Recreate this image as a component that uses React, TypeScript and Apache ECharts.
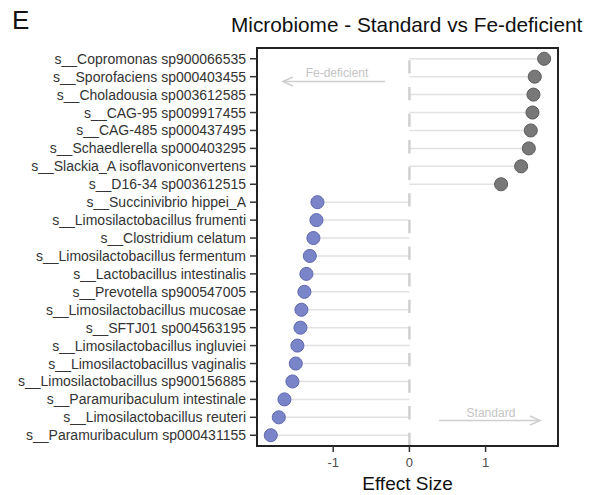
import React, { useEffect, useRef } from "react";
import * as echarts from "echarts";

const species: string[] = [
  "s__Copromonas sp900066535",
  "s__Sporofaciens sp000403455",
  "s__Choladousia sp003612585",
  "s__CAG-95 sp009917455",
  "s__CAG-485 sp000437495",
  "s__Schaedlerella sp000403295",
  "s__Slackia_A isoflavoniconvertens",
  "s__D16-34 sp003612515",
  "s__Succinivibrio hippei_A",
  "s__Limosilactobacillus frumenti",
  "s__Clostridium celatum",
  "s__Limosilactobacillus fermentum",
  "s__Lactobacillus intestinalis",
  "s__Prevotella sp900547005",
  "s__Limosilactobacillus mucosae",
  "s__SFTJ01 sp004563195",
  "s__Limosilactobacillus ingluviei",
  "s__Limosilactobacillus vaginalis",
  "s__Limosilactobacillus sp900156885",
  "s__Paramuribaculum intestinale",
  "s__Limosilactobacillus reuteri",
  "s__Paramuribaculum sp000431155",
];

const effectSize: number[] = [
  1.768, 1.645, 1.628, 1.615, 1.593, 1.567, 1.466, 1.203,
  -1.207, -1.22, -1.26, -1.307, -1.352, -1.378, -1.417, -1.43,
  -1.47, -1.491, -1.535, -1.64, -1.714, -1.819,
];

const xTicks: number[] = [-1, 0, 1];

const FONT = "'Liberation Sans', Arial, Helvetica, sans-serif";

const X_MIN = -2.0;
const X_MAX = 1.95;
const Y_MIN = -0.6;
const Y_MAX = 21.6;

export default function App() {
  const ref = useRef<HTMLDivElement>(null);

  useEffect(() => {
    if (!ref.current) return;
    const chart = echarts.init(ref.current, undefined, { renderer: "svg" });
    const rowIdx = species.map((_, i) => i);
    const pts = effectSize.map((v, i) => [v, i]);
    const posPts = pts.filter((p) => p[0] > 0);
    const negPts = pts.filter((p) => p[0] <= 0);

    const arrowHead = (x: number, y: number, dir: number) => ({
      type: "polyline",
      shape: {
        points: [
          [x - dir * 10, y - 4.5],
          [x, y],
          [x - dir * 10, y + 4.5],
        ],
      },
      style: { stroke: "#cfcfcf", lineWidth: 1.5, fill: "none" },
    });

    const option: any = {
      animation: false,
      textStyle: { fontFamily: FONT },
      title: [
        {
          text: "E",
          left: 12,
          top: 7,
          padding: 0,
          textStyle: { fontFamily: FONT, fontSize: 26, fontWeight: "normal", color: "#111" },
        },
        {
          text: "Microbiome - Standard vs Fe-deficient",
          left: 231,
          top: 14,
          padding: 0,
          textStyle: { fontFamily: FONT, fontSize: 20.8, fontWeight: "normal", color: "#111" },
        },
      ],
      grid: {
        left: 257,
        right: 32,
        top: 48,
        bottom: 49,
        containLabel: false,
        outerBoundsMode: "none",
      },
      xAxis: {
        type: "value",
        position: "bottom",
        min: X_MIN,
        max: X_MAX,
        name: "Effect Size",
        nameLocation: "middle",
        nameGap: 27,
        nameTextStyle: { fontFamily: FONT, fontSize: 19, color: "#111" },
        axisLine: { show: false, onZero: false },
        splitLine: { show: false },
        axisTick: { show: false },
        axisLabel: {
          customValues: xTicks,
          fontFamily: FONT,
          fontSize: 13,
          color: "#4d4d4d",
          margin: 10,
          formatter: (v: number) => String(v),
        },
      },
      yAxis: {
        type: "value",
        position: "left",
        min: Y_MIN,
        max: Y_MAX,
        inverse: true,
        axisLine: { show: false, onZero: false },
        splitLine: { show: false },
        axisTick: { show: false },
        axisLabel: {
          customValues: rowIdx,
          fontFamily: FONT,
          fontSize: 14,
          color: "#333",
          margin: 11,
          formatter: (v: number) => species[Math.round(v)] ?? "",
        },
      },
      series: [
        {
          type: "custom",
          name: "segments",
          z: 1,
          data: pts,
          renderItem: (_p: any, api: any) => {
            const v = api.value(0);
            const i = api.value(1);
            const a = api.coord([0, i]);
            const b = api.coord([v, i]);
            return {
              type: "line",
              shape: { x1: a[0], y1: a[1], x2: b[0], y2: b[1] },
              style: { stroke: "#e2e2e2", lineWidth: 1.5 },
            };
          },
        },
        {
          type: "custom",
          name: "zero",
          z: 2,
          data: [[0]],
          renderItem: (_p: any, api: any) => {
            const a = api.coord([0, Y_MAX]);
            const b = api.coord([0, Y_MIN]);
            return {
              type: "line",
              shape: { x1: a[0], y1: a[1], x2: b[0], y2: b[1] },
              style: { stroke: "#d0d0d0", lineWidth: 2.5, lineDash: [13.3, 13.3] },
            };
          },
        },
        {
          type: "custom",
          name: "annotations",
          z: 2,
          data: [
            [-0.95, 0.78, -0.32, -1.66, 1.27],
            [1.07, 19.74, 0.39, 1.715, 20.18],
          ],
          renderItem: (p: any, api: any) => {
            const labels = ["Fe-deficient", "Standard"];
            const t = api.coord([api.value(0), api.value(1)]);
            const s = api.coord([api.value(2), api.value(4)]);
            const e = api.coord([api.value(3), api.value(4)]);
            const dir = e[0] > s[0] ? 1 : -1;
            return {
              type: "group",
              children: [
                {
                  type: "line",
                  shape: { x1: s[0], y1: s[1], x2: e[0], y2: e[1] },
                  style: { stroke: "#cfcfcf", lineWidth: 1.5 },
                },
                arrowHead(e[0], e[1], dir),
                {
                  type: "text",
                  x: t[0],
                  y: t[1],
                  style: {
                    text: labels[p.dataIndex],
                    fill: "#c4c4c4",
                    fontSize: 12,
                    fontFamily: FONT,
                    textAlign: "center",
                    textVerticalAlign: "middle",
                  },
                },
              ],
            };
          },
        },
        {
          type: "scatter",
          name: "Standard",
          z: 3,
          data: posPts,
          symbolSize: 13,
          itemStyle: { color: "#787878", borderColor: "#5a5a5a", borderWidth: 1, opacity: 1 },
        },
        {
          type: "scatter",
          name: "Fe-deficient",
          z: 3,
          data: negPts,
          symbolSize: 13,
          itemStyle: { color: "#7a84c8", borderColor: "#5e67ad", borderWidth: 1, opacity: 1 },
        },
      ],
    };
    chart.setOption(option);

    // Frame and ticks, placed from the axes' own scales.
    const px = (x: number, y: number) =>
      chart.convertToPixel({ gridIndex: 0 }, [x, y]) as number[];
    const tl = px(X_MIN, Y_MIN);
    const br = px(X_MAX, Y_MAX);
    if (tl && br) {
      const left = Math.min(tl[0], br[0]);
      const top = Math.min(tl[1], br[1]);
      const bottom = Math.max(tl[1], br[1]);
      const graphics: any[] = [
        {
          type: "rect",
          z: 10,
          silent: true,
          shape: {
            x: left,
            y: top,
            width: Math.abs(br[0] - tl[0]),
            height: Math.abs(br[1] - tl[1]),
          },
          style: { fill: "none", stroke: "#222", lineWidth: 2 },
        },
      ];
      rowIdx.forEach((i) => {
        const p = px(X_MIN, i);
        graphics.push({
          type: "line",
          z: 10,
          silent: true,
          shape: { x1: left - 7, y1: p[1], x2: left, y2: p[1] },
          style: { stroke: "#333", lineWidth: 1.5 },
        });
      });
      xTicks.forEach((v) => {
        const p = px(v, Y_MAX);
        graphics.push({
          type: "line",
          z: 10,
          silent: true,
          shape: { x1: p[0], y1: bottom, x2: p[0], y2: bottom + 6 },
          style: { stroke: "#333", lineWidth: 1.5 },
        });
      });
      chart.setOption({ graphic: graphics });
    }
    return () => chart.dispose();
  }, []);

  return (
    <div
      ref={ref}
      style={{ position: "fixed", left: 0, top: 0, width: 590, height: 495, background: "#fff" }}
    />
  );
}
